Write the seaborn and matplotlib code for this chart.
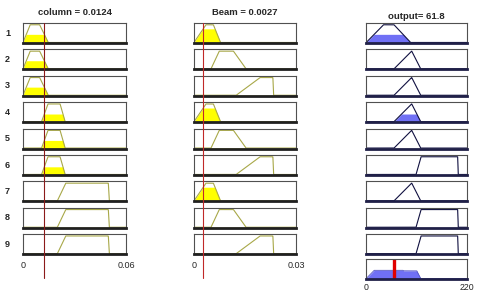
import numpy as np
import pandas as pd
import matplotlib.pyplot as plt
from matplotlib.lines import Line2D
from matplotlib import transforms
import seaborn as sns

# inputs / output of the fuzzy system
column_range = [0.0, 0.06]
beam_range = [0.0, 0.03]
output_range = [0.0, 220.0]
column_in = 0.0124
beam_in = 0.0027
output_val = 61.8

# membership functions (trapezoid corners)
column_mfs = {
    "low": [0.0, 0.0042, 0.0097, 0.0147],
    "mid": [0.0108, 0.0145, 0.0216, 0.0245],
    "high": [0.0200, 0.0249, 0.0497, 0.0503],
}
beam_mfs = {
    "low": [0.0, 0.0035, 0.0057, 0.0078],
    "mid": [0.0050, 0.0074, 0.0116, 0.0153],
    "high": [0.0124, 0.0194, 0.0232, 0.0234],
}
output_mfs = {
    "low": [0.5, 38.0, 61.0, 97.0],
    "mid": [61.0, 99.4, 99.6, 119.0],
    "high": [109.0, 120.0, 199.7, 201.0],
}

# rule base: column mf, beam mf, output mf
rule_column = ["low", "low", "low", "mid", "mid", "mid", "high", "high", "high"]
rule_beam = ["low", "mid", "high", "low", "mid", "high", "low", "mid", "high"]
rule_output = ["low", "mid", "mid", "mid", "mid", "high", "mid", "high", "high"]


def trap(x, p):
    return np.interp(x, p, [0, 1, 1, 0], left=0, right=0)


sns.set_style("white")
plt.rcParams['font.family'] = ['Liberation Sans', 'DejaVu Sans']

W, H = 479, 294
fig = plt.figure(figsize=(W / 100, H / 100), dpi=100)

cols_px = [(23, 126), (194, 296), (366, 467)]
row_tops = [23 + 26.4 * i for i in range(9)]
row_h = 20
YLIM = (-0.03, 1.1)


def make_ax(col, top, h=row_h):
    x0, x1 = cols_px[col]
    ax = fig.add_axes([x0 / W, 1 - (top + h) / H, (x1 - x0) / W, h / H])
    for s in ["top", "left", "right"]:
        ax.spines[s].set_color("#505050")
        ax.spines[s].set_linewidth(0.8)
    ax.spines["bottom"].set_color("#202020" if col < 2 else "#202048")
    ax.spines["bottom"].set_linewidth(2.0)
    ax.set_xticks([])
    ax.set_yticks([])
    return ax


def finish(ax, rng):
    ax.set_xlim(*rng)
    ax.set_ylim(*YLIM)
    ax.set_xlabel("")
    ax.set_ylabel("")


in_line = "#a8a848"
in_fill = "#ffff00"
out_line = "#101040"
out_fill = "#7070f5"

xc = np.linspace(*column_range, 800)
xb = np.linspace(*beam_range, 800)
xo = np.linspace(*output_range, 800)

agg = np.zeros_like(xo)
first_axes = []
for i in range(9):
    mu_c = trap(column_in, column_mfs[rule_column[i]])
    mu_b = trap(beam_in, beam_mfs[rule_beam[i]])
    w = min(mu_c, mu_b)

    # column
    ax = make_ax(0, row_tops[i])
    yc = trap(xc, column_mfs[rule_column[i]])
    ax.fill_between(xc, YLIM[0], np.where(yc > 0, np.minimum(yc, mu_c), YLIM[0]),
                    color=in_fill, lw=0)
    sns.lineplot(x=xc, y=yc, ax=ax, color=in_line, lw=0.8, estimator=None)
    finish(ax, column_range)
    fig.text(5 / W, 1 - (row_tops[i] + row_h / 2) / H, str(i + 1), fontsize=6.5,
             fontweight="bold", ha="left", va="center")
    if i == 0:
        ax.set_title(f"column = {column_in}", fontsize=6.8, fontweight="bold", pad=6)
        first_axes.append(ax)
    if i == 8:
        ax.set_xticks(column_range)
        ax.set_xticklabels(["0", "0.06"])
        ax.tick_params(length=0, labelsize=6.5, pad=5)

    # beam
    ax = make_ax(1, row_tops[i])
    yb = trap(xb, beam_mfs[rule_beam[i]])
    ax.fill_between(xb, YLIM[0], np.where(yb > 0, np.minimum(yb, mu_b), YLIM[0]),
                    color=in_fill, lw=0)
    sns.lineplot(x=xb, y=yb, ax=ax, color=in_line, lw=0.8, estimator=None)
    finish(ax, beam_range)
    if i == 0:
        ax.set_title(f"Beam = {beam_in}", fontsize=6.8, fontweight="bold", pad=6)
        first_axes.append(ax)
    if i == 8:
        ax.set_xticks(beam_range)
        ax.set_xticklabels(["0", "0.03"])
        ax.tick_params(length=0, labelsize=6.5, pad=5)

    # output
    ax = make_ax(2, row_tops[i])
    yo = trap(xo, output_mfs[rule_output[i]])
    clipped = np.minimum(yo, w)
    agg = np.maximum(agg, clipped)
    ax.fill_between(xo, YLIM[0], np.where(clipped > 0, clipped, YLIM[0]),
                    color=out_fill, lw=0)
    sns.lineplot(x=xo, y=yo, ax=ax, color=out_line, lw=0.8, estimator=None)
    finish(ax, output_range)
    if i == 0:
        ax.set_title(f"output= {output_val}", fontsize=6.8, fontweight="bold", pad=3)

# aggregated output
ax = make_ax(2, 259)
ax.fill_between(xo, YLIM[0], np.where(agg > 0, agg, YLIM[0]), color=out_fill, lw=0)
sns.lineplot(x=xo, y=agg, ax=ax, color="#5050c0", lw=0.6, estimator=None)
ax.axvline(output_val, color="#e00000", lw=2.4)
finish(ax, output_range)
ax.set_xticks(output_range)
ax.set_xticklabels(["0", "220"])
ax.tick_params(length=0, labelsize=6.3, pad=3)

# input indicator lines spanning all rows
for ax0, val, col in [(first_axes[0], column_in, "#8b1a1a"), (first_axes[1], beam_in, "#c02828")]:
    tr = transforms.blended_transform_factory(ax0.transData, fig.transFigure)
    fig.add_artist(Line2D([val, val], [1 - 23 / H, 1 - 278 / H], transform=tr,
                          color=col, lw=0.8, zorder=10))

fig.savefig("out.png", dpi=100)
